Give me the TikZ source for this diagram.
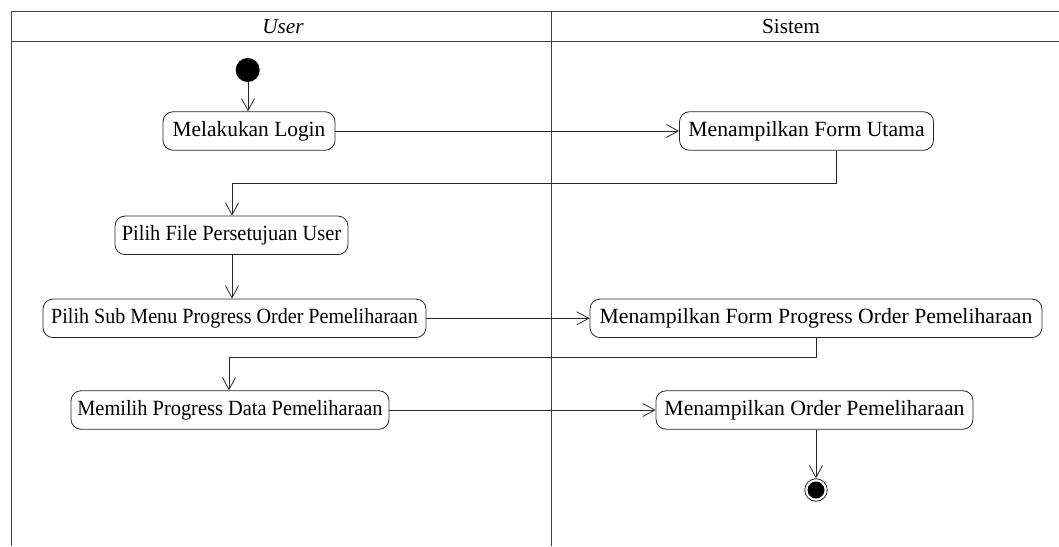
\documentclass[tikz,border=0pt]{standalone}
\usepackage{fontspec}
\usepackage{graphicx}
\setmainfont{Liberation Serif}
\usetikzlibrary{arrows.meta,positioning}
% horizontally condensed label text
\newcommand{\hsq}[2]{\scalebox{#1}[1]{#2}}
\begin{document}
\begin{tikzpicture}[x=1pt,y=-1pt,
  lane/.style={draw=black!75, line width=0.9pt},
  act/.style={draw=black!85, line width=0.8pt, rounded corners=10pt,
    minimum height=38.5pt, inner xsep=0pt, inner ysep=0pt,
    font=\fontsize{21.7}{24}\selectfont},
  flow/.style={draw=black!85, line width=0.8pt,
    -{Straight Barb[length=12pt,width=13pt,line width=0.8pt]}},
  hdr/.style={font=\fontsize{21.3}{26}\selectfont}]
\useasboundingbox (0,0) rectangle (1059,546);
% swimlane frame
\draw[lane] (11,11.5) -- (1059,11.5);
\draw[lane] (11,41) -- (1059,41);
\draw[lane] (11,11.5) -- (11,546);
\draw[lane] (551,11.5) -- (551,546);
\node[hdr] (hu) at (283,27) {\itshape User};
\node[hdr] (hs) at (791,27) {Sistem};
% activities
\fill (247.7,70) circle (12pt);
\coordinate (init) at (248,82);
\node[act, minimum width=172pt] (login) at (249,131) {\hsq{0.986}{Melakukan Login}};
\node[act, minimum width=254pt] (fu) at (806.5,131) {Menampilkan Form Utama};
\node[act, minimum width=233pt] (pf) at (231.5,235.3) {\hsq{0.94}{Pilih File Persetujuan User}};
\node[act, minimum width=383pt] (ps) at (234.5,318.3) {\hsq{0.926}{Pilih Sub Menu Progress Order Pemeliharaan}};
\node[act, minimum width=452pt] (fp) at (816,318.3) {Menampilkan Form Progress Order Pemeliharaan};
\node[act, minimum width=318pt] (mp) at (230,410) {\hsq{0.94}{Memilih Progress Data Pemeliharaan}};
\node[act, minimum width=317pt] (op) at (814.5,410) {Menampilkan Order Pemeliharaan};
\node[circle, draw=black!85, line width=0.8pt, minimum size=22.5pt, inner sep=0pt] (fin) at (816,490) {};
\fill (fin.center) circle (8.5pt);
% connectors
\coordinate (k1) at (836,183);
\coordinate (k2) at (816,357);
\draw[flow] (init) -- (init |- login.north);
\draw[flow] (login.east) -- (fu.west);
\draw[flow] (fu.south -| k1) -- (k1) -| (pf.north -| 232,0);
\draw[flow] (pf.south -| 232,0) -- (ps.north -| 232,0);
\draw[flow] (ps.east) -- (fp.west);
\draw[flow] (fp.south -| k2) -- (k2) -| (mp.north -| 229,0);
\draw[flow] (mp.east) -- (op.west);
\draw[flow] (op.south -| fin.north) -- (fin.north);
\end{tikzpicture}
\end{document}
